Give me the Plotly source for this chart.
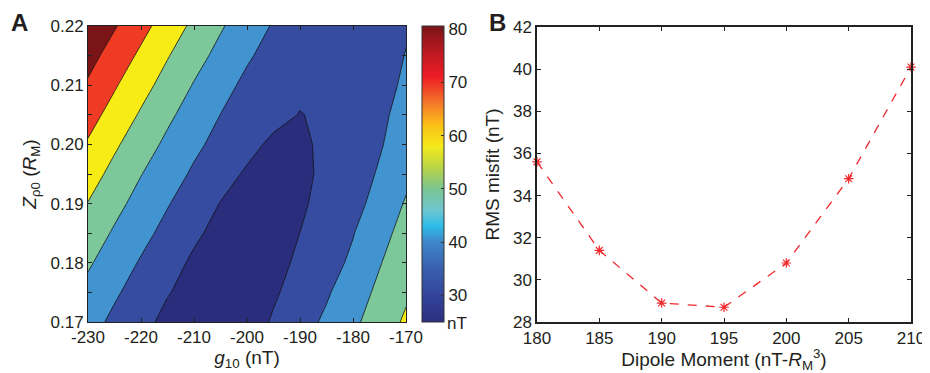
import plotly.graph_objects as go

# ---------------- Panel A data (misfit grid, nT) ----------------
g10 = [-230, -225, -220, -215, -210, -205, -200, -195, -190, -185, -180, -175, -170]
zp0 = [0.17, 0.175, 0.18, 0.185, 0.19, 0.195, 0.20, 0.205, 0.21, 0.215, 0.22]
misfit = [
    [43.6, 37.9, 32.7, 27.6, 25.6, 25.0, 25.6, 31.0, 36.2, 41.7, 48.1, 54.7, 61.5],
    [47.3, 41.3, 35.9, 30.5, 27.0, 25.4, 25.6, 28.8, 33.8, 38.9, 45.3, 52.1, 58.5],
    [51.2, 45.1, 39.1, 33.7, 28.4, 26.0, 25.8, 27.0, 31.7, 36.6, 41.6, 49.4, 56.2],
    [55.5, 48.8, 42.9, 37.1, 31.6, 27.2, 26.2, 27.0, 30.05, 34.9, 39.6, 46.7, 53.5],
    [59.7, 52.9, 46.5, 40.6, 35.1, 29.7, 27.5, 27.3, 28.5, 33.2, 37.9, 42.3, 51.0],
    [64.3, 57.1, 50.3, 44.3, 38.6, 33.6, 28.8, 27.5, 27.8, 32.0, 36.3, 40.8, 47.5],
    [69.0, 61.5, 54.5, 48.0, 42.0, 37.1, 32.7, 28.2, 28.3, 31.9, 35.6, 39.3, 44.0],
    [73.8, 66.3, 58.9, 51.9, 45.7, 39.9, 36.3, 32.7, 29.7, 31.5, 35.2, 38.7, 42.2],
    [78.8, 71.0, 63.5, 56.3, 49.4, 43.5, 37.7, 33.6, 31.7, 31.9, 34.3, 37.9, 41.0],
    [83.5, 75.8, 68.2, 60.6, 53.6, 47.2, 41.3, 36.2, 33.3, 32.5, 33.5, 36.1, 40.3],
    [88.5, 80.8, 73.1, 65.4, 57.9, 51.0, 44.9, 39.2, 35.3, 33.5, 33.8, 35.6, 39.1],
]
levels = [30, 40, 50, 60, 70, 80]
band_colors = ["#2a2c7c", "#354ca0", "#4294d1", "#7dc89b", "#f8ec16", "#ef3b24", "#7a1416"]
cbar_range = [25, 80.6]
cbar_ticks = [30, 40, 50, 60, 70, 80]
g10_ticks = [-230, -220, -210, -200, -190, -180, -170]
zp0_ticks = [0.17, 0.18, 0.19, 0.20, 0.21, 0.22]

# ---------------- Panel B data ----------------
dipole = [180, 185, 190, 195, 200, 205, 210]
rms = [35.6, 31.4, 28.9, 28.7, 30.8, 34.8, 40.1]

FONT = "Liberation Sans, Arial, Helvetica, sans-serif"
TXT = "#231f20"

# page body adds an 8 px margin: size figure so it fills the 930x373 window
OFF = 8
W, H = 930 - OFF, 373 - OFF


def px(x):
    return (x - OFF) / W


def py(y):
    return 1 - (y - OFF) / H


# continuous jet-like colorbar scale (value, colour)
jet_stops = [(25, "#2b2e7f"), (30, "#33449a"), (35, "#3a5fac"), (40, "#3f87c8"),
             (43, "#2dbbe8"), (46, "#6fc6d0"), (50, "#7ac592"), (54, "#b9d447"),
             (58, "#f4ea1b"), (62, "#fbbf16"), (66, "#f47a2a"), (71, "#ee1c25"),
             (75, "#c41a22"), (80.6, "#7a1418")]
lo, hi = cbar_range
jet_scale = [[(v - lo) / (hi - lo), c] for v, c in jet_stops]

n = len(band_colors) - 1
band_scale = [[k / n, c] for k, c in enumerate(band_colors)]

fig = go.Figure()

fig.add_trace(go.Contour(
    x=g10, y=zp0, z=misfit,
    contours=dict(start=levels[0], end=levels[-1], size=levels[1] - levels[0],
                  coloring="fill"),
    colorscale=band_scale, showscale=False,
    line=dict(color="#111111", width=0.8, smoothing=0),
    xaxis="x", yaxis="y", hoverinfo="skip",
))

# invisible trace carrying the continuous colour bar
fig.add_trace(go.Scatter(
    x=[None, None], y=[None, None], mode="markers",
    marker=dict(color=cbar_range, cmin=lo, cmax=hi, colorscale=jet_scale,
                showscale=True,
                colorbar=dict(x=px(422), xanchor="left", xref="paper",
                              y=py(322), yanchor="bottom", len=(322 - 26) / H,
                              lenmode="fraction", thickness=22, thicknessmode="pixels",
                              outlinecolor="#333", outlinewidth=1,
                              tickvals=cbar_ticks, ticks="inside", ticklen=3,
                              tickcolor="#333",
                              tickfont=dict(family=FONT, size=17, color=TXT),
                              ypad=0, xpad=0)),
    xaxis="x", yaxis="y", showlegend=False, hoverinfo="skip",
))

fig.add_trace(go.Scatter(
    x=dipole, y=rms, mode="lines+markers",
    line=dict(color="#f0282d", width=1.3, dash="dash"),
    marker=dict(symbol="asterisk-open", size=8, line=dict(color="#f0282d", width=1.2)),
    xaxis="x2", yaxis="y2", showlegend=False, cliponaxis=False,
))

axis_common = dict(showline=True, mirror="ticks", ticks="inside", ticklen=4,
                   linecolor="#222", tickcolor="#222", showgrid=False, zeroline=False,
                   automargin=False,
                   tickfont=dict(family=FONT, size=17, color=TXT),
                   title_font=dict(family=FONT, size=19, color=TXT))

fig.update_layout(
    width=W, height=H,
    margin=dict(l=0, r=0, t=0, b=0, autoexpand=False),
    paper_bgcolor="white", plot_bgcolor="white",
    showlegend=False,
    font=dict(family=FONT, color=TXT),
    xaxis=dict(domain=[px(88), px(406)], range=[-230, -170],
               tickvals=g10_ticks, ticktext=[str(v) for v in g10_ticks],
               title=dict(text="<i>g</i><sub>10</sub> (nT)", standoff=4),
               linewidth=1, **axis_common),
    yaxis=dict(domain=[py(322), py(26)], range=[0.17, 0.22],
               tickvals=zp0_ticks, ticktext=[f"{v:.2f}" for v in zp0_ticks],
               minor=dict(dtick=0.005, ticks="inside", ticklen=4, tickcolor="#222"),
               title=dict(text="<i>Z</i><sub>ρ0</sub> (<i>R</i><sub>M</sub>)", standoff=8),
               linewidth=1, **axis_common),
    xaxis2=dict(domain=[px(537), px(911)], range=[180, 210], dtick=5, anchor="y2",
                title=dict(text="Dipole Moment (nT-<i>R</i><sub>M</sub><sup>3</sup>)", standoff=4),
                linewidth=1.5, **axis_common),
    yaxis2=dict(domain=[py(322), py(27)], range=[28, 42], dtick=2, anchor="x2",
                title=dict(text="RMS misfit (nT)", standoff=8),
                linewidth=1.5, **axis_common),
    annotations=[
        dict(text="<b>A</b>", x=px(9), y=py(23), xref="paper", yref="paper",
             xanchor="left", yanchor="middle", showarrow=False,
             font=dict(family=FONT, size=24, color=TXT)),
        dict(text="<b>B</b>", x=px(487), y=py(23), xref="paper", yref="paper",
             xanchor="left", yanchor="middle", showarrow=False,
             font=dict(family=FONT, size=24, color=TXT)),
        dict(text="nT", x=px(445), y=py(323), xref="paper", yref="paper",
             xanchor="left", yanchor="middle", showarrow=False,
             font=dict(family=FONT, size=17, color=TXT)),
    ],
)

fig.write_html("out.html")
